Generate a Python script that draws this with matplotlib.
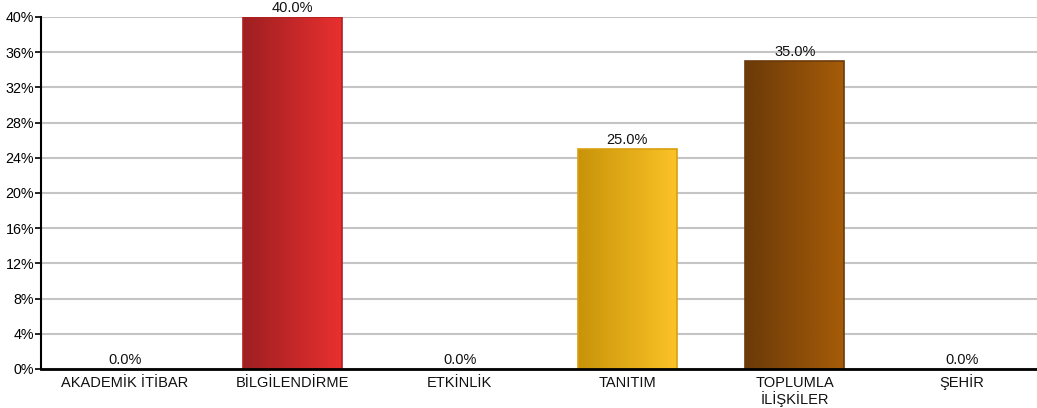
import numpy as np
import matplotlib
matplotlib.use("Agg")
import matplotlib.pyplot as plt
import matplotlib.transforms as mtransforms
from matplotlib.colors import LinearSegmentedColormap
from matplotlib.ticker import FuncFormatter, MultipleLocator

plt.rcParams['font.family'] = ['Liberation Sans', 'DejaVu Sans']

categories = ["AKADEMİK İTİBAR", "BİLGİLENDİRME", "ETKİNLİK", "TANITIM", "TOPLUMLA\nİLİŞKİLER", "ŞEHİR"]
values = [0.0, 40.0, 0.0, 25.0, 35.0, 0.0]
grad_left = ["#9e1f22", "#9e1f22", "#9e1f22", "#c8930a", "#6b3a08", "#9e1f22"]
grad_right = ["#e8302f", "#e8302f", "#e8302f", "#fbc326", "#a65c08", "#e8302f"]
edge_colors = ["#b02020", "#b02020", "#b02020", "#d9a010", "#6b3a0a", "#b02020"]

W, H = 1037, 408
fig = plt.figure(figsize=(W / 100, H / 100), dpi=100)
ax = fig.add_axes([41 / W, (H - 369) / H, 1005 / W, 352 / H])

x = np.arange(len(categories))
bars = ax.bar(x, values, width=0.59, color="none", edgecolor="none", zorder=3)
grad = np.linspace(0, 1, 256).reshape(1, -1)
for i, (b, v) in enumerate(zip(bars, values)):
    if v > 0:
        x0, w, h = b.get_x(), b.get_width(), b.get_height()
        cmap = LinearSegmentedColormap.from_list("g", [grad_left[i], grad_right[i]])
        im = ax.imshow(grad, cmap=cmap, extent=[x0, x0 + w, 0, h], aspect="auto", zorder=3)
        im.set_clip_path(b)
        ax.add_patch(plt.Rectangle((x0, 0), w, h, fill=False, edgecolor=edge_colors[i], lw=1.2, zorder=4))
    ax.text(x[i], v + 0.25, f"{v:.1f}%", ha="center", va="bottom", fontsize=10.5, color="#111111", zorder=5, clip_on=False)

ax.set_xlim(-0.5, len(categories) - 0.5)
ax.set_ylim(0, 40)
ax.yaxis.set_major_locator(MultipleLocator(4))
ax.yaxis.set_major_formatter(FuncFormatter(lambda v, p: f"{v:.0f}%"))
ax.set_xticks(x)
ax.set_xticklabels([])
ax.tick_params(axis="x", length=0)
# category labels, one text per line, baseline-aligned
base = ax.get_xaxis_transform()
for i, cat in enumerate(categories):
    for k, line in enumerate(cat.split("\n")):
        tr = mtransforms.offset_copy(base, fig=fig, x=0, y=-(18 + 17 * k) * 72 / 100, units="points")
        ax.text(x[i], 0, line, transform=tr, ha="center", va="baseline", fontsize=10.5,
                color="#111111", clip_on=False)
ax.tick_params(axis="y", labelsize=10.3, length=4, width=1.2, direction="out", pad=1)
ax.grid(axis="y", color="#c4c4c4", lw=1.5, zorder=1)
ax.set_axisbelow(True)
for s in ["top", "right"]:
    ax.spines[s].set_visible(False)
ax.spines["left"].set_linewidth(1.5)
ax.spines["bottom"].set_linewidth(2)
ax.spines["left"].set_zorder(6)
ax.spines["bottom"].set_zorder(6)

fig.savefig("out.png", dpi=100)
